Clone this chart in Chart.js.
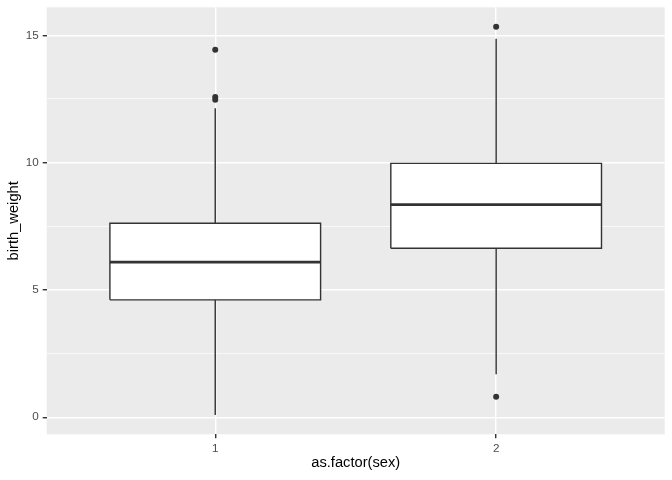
<!DOCTYPE html>
<html>
<head>
<meta charset="utf-8">
<script src="https://cdn.jsdelivr.net/npm/chart.js@4.4.1/dist/chart.umd.min.js"></script>
<style>
html,body{margin:0;padding:0;background:#fff;}
canvas{display:block;}
</style>
</head>
<body>
<canvas id="c" width="672" height="480"></canvas>
<script>
// ---- data ----
const categories = ['1', '2'];
const categoryPositions = [1, 2];
const q1Values = [4.61, 6.64];
const medianValues = [6.09, 8.35];
const q3Values = [7.62, 9.97];
const whiskerLow = [0.09, 1.69];
const whiskerHigh = [12.14, 14.86];
const outliers1 = [14.43, 12.58, 12.47];
const outliers2 = [15.34, 0.80];
const yTickValues = [0, 2.5, 5, 7.5, 10, 12.5, 15];
const yTickLabels = ['0', '', '5', '', '10', '', '15'];
const xTickLabels = categories;

// ---- styling ----
const BOX_WIDTH = 0.75;
const INK = '#333333';
const LW = 1.42;
const FONT = '"Liberation Sans", Arial, Helvetica, sans-serif';

const outlierGroups = [outliers1, outliers2];

const datasets = [];
// outliers (on top)
datasets.push({
  type: 'scatter',
  data: outlierGroups.flatMap((g, i) => g.map(v => ({x: categoryPositions[i], y: v}))),
  pointRadius: 3,
  pointBackgroundColor: INK,
  pointBorderWidth: 0,
  showLine: false
});
// medians
categoryPositions.forEach((c, i) => {
  datasets.push({
    type: 'line',
    data: [{x: c - BOX_WIDTH / 2, y: medianValues[i]}, {x: c + BOX_WIDTH / 2, y: medianValues[i]}],
    borderColor: INK, borderWidth: LW * 2, pointRadius: 0, fill: false, borderCapStyle: 'butt'
  });
});
// boxes
categoryPositions.forEach((c, i) => {
  const l = c - BOX_WIDTH / 2, r = c + BOX_WIDTH / 2;
  datasets.push({
    type: 'line',
    data: [{x: l, y: q1Values[i]}, {x: r, y: q1Values[i]}, {x: r, y: q3Values[i]}, {x: l, y: q3Values[i]}, {x: l, y: q1Values[i]}],
    borderColor: INK, borderWidth: LW, backgroundColor: '#ffffff', fill: 'shape',
    pointRadius: 0, tension: 0, borderJoinStyle: 'miter'
  });
});
// whiskers
categoryPositions.forEach((c, i) => {
  datasets.push({
    type: 'line',
    data: [{x: c, y: whiskerLow[i]}, {x: c, y: q1Values[i]}],
    borderColor: INK, borderWidth: LW, pointRadius: 0, fill: false
  });
  datasets.push({
    type: 'line',
    data: [{x: c, y: q3Values[i]}, {x: c, y: whiskerHigh[i]}],
    borderColor: INK, borderWidth: LW, pointRadius: 0, fill: false
  });
});

const panelBg = {
  id: 'panelBg',
  beforeDraw(chart) {
    const {ctx, chartArea: a} = chart;
    ctx.save();
    ctx.fillStyle = '#EBEBEB';
    ctx.fillRect(a.left, a.top, a.right - a.left, a.bottom - a.top);
    ctx.restore();
  }
};

new Chart(document.getElementById('c'), {
  type: 'scatter',
  data: {datasets},
  plugins: [panelBg],
  options: {
    responsive: false,
    animation: false,
    events: [],
    layout: {padding: {top: 7.3, right: 7.3, left: 0, bottom: 0}},
    plugins: {legend: {display: false}, tooltip: {enabled: false}},
    scales: {
      x: {
        type: 'linear', min: 0.4, max: 2.6,
        afterBuildTicks: s => { s.ticks = categoryPositions.map(v => ({value: v})); },
        afterFit: s => { s.height = 45.7; s.paddingLeft = 0; s.paddingRight = 0; },
        grid: {color: '#ffffff', lineWidth: LW, tickColor: INK, tickLength: 4, tickWidth: LW},
        border: {display: false},
        ticks: {
          color: '#4D4D4D', font: {family: FONT, size: 11.7}, padding: 3,
          maxRotation: 0,
          callback: (v, idx) => xTickLabels[idx]
        },
        title: {display: true, text: 'as.factor(sex)', color: '#000', font: {family: FONT, size: 14.7}, padding: {top: 0, bottom: 8}}
      },
      y: {
        type: 'linear', min: -0.67, max: 16.10,
        afterBuildTicks: s => { s.ticks = yTickValues.map(v => ({value: v})); },
        afterFit: s => { s.width = 46.7; s.paddingTop = 0; s.paddingBottom = 0; },
        grid: {
          color: '#ffffff',
          lineWidth: c => (yTickLabels[c.index] ? LW : LW / 2),
          tickColor: c => (yTickLabels[c.index] ? INK : 'rgba(0,0,0,0)'),
          tickLength: 4, tickWidth: LW
        },
        border: {display: false},
        ticks: {
          color: '#4D4D4D', font: {family: FONT, size: 11.7}, padding: 4,
          callback: (v, idx) => yTickLabels[idx]
        },
        title: {display: true, text: 'birth_weight', color: '#000', font: {family: FONT, size: 14.7}, padding: {top: 5, bottom: 0}}
      }
    }
  }
});
</script>
</body>
</html>
